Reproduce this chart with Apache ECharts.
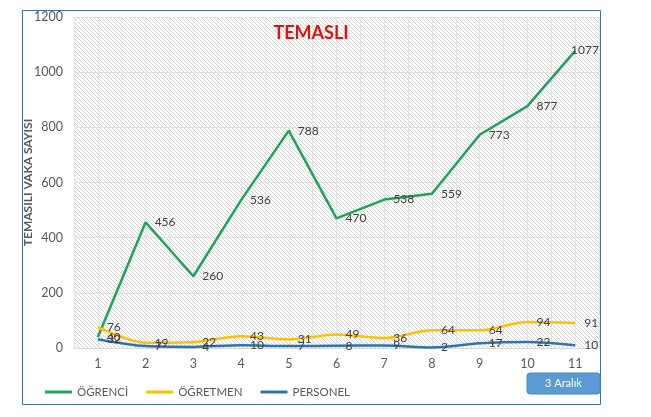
<!DOCTYPE html>
<html>
<head>
<meta charset="utf-8">
<script src="https://cdn.jsdelivr.net/npm/echarts@6/dist/echarts.min.js"></script>
<style>
html, body { margin: 0; padding: 0; background: #fff; }
#chart { width: 651px; height: 417px; }
</style>
</head>
<body>
<div id="chart"></div>
<script>
'use strict';

const days = ['1', '2', '3', '4', '5', '6', '7', '8', '9', '10', '11'];
const ogrenci = [40, 456, 260, 536, 788, 470, 538, 559, 773, 877, 1077];
const ogretmen = [76, 19, 22, 43, 31, 49, 36, 64, 64, 94, 91];
const personel = [32, 7, 4, 10, 7, 8, 9, 2, 17, 22, 10];
const yTicks = [0, 200, 400, 600, 800, 1000, 1200];

const FONT = 'Lato';

// hatch pattern like the excel plot area fill
function hatch() {
    const c = document.createElement('canvas');
    c.width = 4;
    c.height = 4;
    const g = c.getContext('2d');
    g.fillStyle = '#ffffff';
    g.fillRect(0, 0, 4, 4);
    g.strokeStyle = '#d4d4d4';
    g.lineWidth = 1;
    g.beginPath();
    g.moveTo(-1, -1); g.lineTo(5, 5);
    g.moveTo(-1, 3); g.lineTo(1, 5);
    g.moveTo(3, -1); g.lineTo(5, 1);
    g.stroke();
    return c;
}

function lineSeries(name, data, color, smooth, lastLabel) {
    return {
        name: name,
        type: 'line',
        data: data.map(function (v, i) {
            if (lastLabel && i === data.length - 1) {
                return {value: v, label: lastLabel};
            }
            return v;
        }),
        symbol: 'circle',
        symbolSize: 0.1,
        showSymbol: true,
        smooth: smooth,
        lineStyle: {color: color, width: 2.5},
        itemStyle: {color: color},
        label: {
            show: true,
            position: 'right',
            distance: 9,
            color: '#404040',
            fontFamily: FONT,
            fontSize: 12,
        },
        labelLayout: {hideOverlap: false},
        z: 3,
    };
}

const chart = echarts.init(document.getElementById('chart'));
chart.setOption({
    animation: false,
    textStyle: {fontFamily: FONT},
    grid: {
        left: 74, right: 52, top: 17, bottom: 69,
        show: true,
        borderWidth: 0,
        backgroundColor: {image: hatch(), repeat: 'repeat'},
    },
    legend: {
        left: 40,
        top: 381,
        itemWidth: 27,
        itemHeight: 3,
        itemGap: 18,
        icon: 'rect',
        textStyle: {color: '#595959', fontSize: 11.5, fontFamily: FONT},
        data: ['ÖĞRENCİ', 'ÖĞRETMEN', 'PERSONEL'],
    },
    xAxis: [{
        type: 'category',
        data: days,
        boundaryGap: true,
        axisLine: {lineStyle: {color: '#d9d9d9'}},
        axisTick: {show: false},
        axisLabel: {color: '#595959', fontSize: 12.5, margin: 9},
        splitLine: {show: false},
    }, {
        // helper axis for excel-like vertical gridlines every half band
        type: 'value',
        min: 0.5,
        max: 11.5,
        interval: 0.5,
        show: true,
        axisLine: {show: false},
        axisTick: {show: false},
        axisLabel: {show: false},
        splitLine: {show: true, lineStyle: {color: '#e3e3e3', width: 1}},
    }],
    yAxis: {
        type: 'value',
        min: yTicks[0],
        max: yTicks[yTicks.length - 1],
        interval: 200,
        name: 'TEMASILI VAKA SAYISI',
        nameLocation: 'middle',
        nameGap: 40,
        nameMoveOverlap: false,
        nameRotate: 90,
        nameTextStyle: {color: '#595959', fontSize: 12, fontWeight: 'bold', fontFamily: FONT},
        axisLine: {show: false},
        axisTick: {show: false},
        axisLabel: {color: '#595959', fontSize: 12.5, margin: 11, formatter: function (v) { return String(v); }},
        splitLine: {lineStyle: {color: '#e0e0e0', width: 1}},
    },
    series: [
        lineSeries('ÖĞRENCİ', ogrenci, '#1FA35A', false, {position: [-4, -1], align: 'left', verticalAlign: 'middle'}),
        lineSeries('ÖĞRETMEN', ogretmen, '#FFC000', 0.3),
        lineSeries('PERSONEL', personel, '#2E73AE', 0.3),
    ],
    graphic: [{
        type: 'rect',
        shape: {x: 22.5, y: 10.5, width: 578, height: 394},
        style: {fill: null, stroke: '#41719C', lineWidth: 1},
        silent: true,
        z: 10,
    }, {
        type: 'text',
        x: 311,
        y: 33,
        z: 10,
        style: {
            text: 'TEMASLI', fill: '#E51010', fontSize: 18, fontWeight: 'bold', fontFamily: FONT,
            align: 'center', verticalAlign: 'middle',
        },
    }, {
        type: 'rect',
        shape: {x: 527, y: 373, width: 73, height: 21, r: 3},
        style: {fill: '#5B9BD5', stroke: '#4A87BE', lineWidth: 1},
        z: 10,
    }, {
        type: 'text',
        x: 563.5,
        y: 383.5,
        z: 11,
        style: {
            text: '3 Aralık', fill: '#ffffff', fontSize: 11, fontFamily: FONT,
            align: 'center', verticalAlign: 'middle',
        },
    }],
});
</script>
</body>
</html>
